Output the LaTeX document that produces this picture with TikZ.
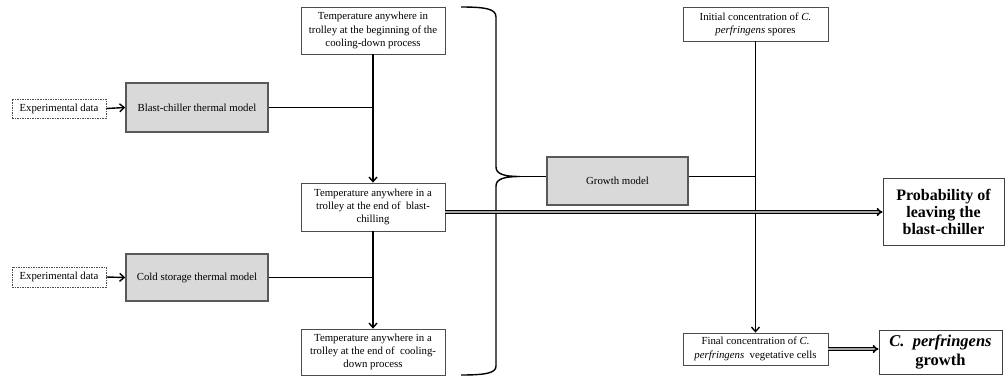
\documentclass[tikz,border=0pt]{standalone}
\usepackage{fontspec}
\setmainfont{Liberation Serif}
\usetikzlibrary{arrows.meta}
\begin{document}
\begin{tikzpicture}[x=1pt,y=-1pt,
  box/.style={draw=black!70, line width=0.8pt, fill=white, align=center, inner sep=0pt, font=\fontsize{10.8}{13.3}\selectfont},
  expbox/.style={box, dash pattern=on 1.5pt off 1pt},
  model/.style={draw=black!65, line width=1.6pt, fill=black!15, align=center, inner sep=0pt, font=\fontsize{10.8}{13.3}\selectfont},
  outbox/.style={draw=black!75, line width=1pt, fill=white, align=center, inner sep=0pt, font=\fontsize{16}{16.8}\selectfont\bfseries},
  conn/.style={line width=1.4pt},
  arr/.style={conn, -{Straight Barb[length=4.5pt,width=8pt]}},
  dbl/.style={double=black!35, double distance=1.1pt, line width=1.5pt, -{Implies}},
]
\useasboundingbox (0,0) rectangle (1006,378);

\node[expbox, minimum width=94pt, minimum height=19pt] (exp1) at (59,108.5) {Experimental data};
\node[model, minimum width=142pt, minimum height=49pt] (blast) at (197,107.5) {Blast-chiller thermal model};
\node[box, minimum width=144pt, minimum height=47pt] (t1) at (373,30.5) {Temperature anywhere in\\trolley at the beginning of the\\cooling-down process};
\node[box, minimum width=144pt, minimum height=48pt] (t2) at (373,207) {Temperature anywhere in a\\trolley at the end of~ blast-\\chilling};
\node[expbox, minimum width=94pt, minimum height=20pt] (exp2) at (59,277) {Experimental data};
\node[model, minimum width=142pt, minimum height=47pt] (cold) at (197,277.5) {Cold storage thermal model};
\node[box, minimum width=144pt, minimum height=46pt] (t3) at (373,352) {Temperature anywhere in a\\trolley at the end of~ cooling-\\down process};
\node[model, minimum width=141pt, minimum height=48pt] (growth) at (617.5,181) {Growth model};
\node[box, minimum width=145pt, minimum height=34pt] (ini) at (755.5,24) {Initial concentration of \textit{C.}\\\textit{perfringens} spores};
\node[box, minimum width=145pt, minimum height=32pt] (fin) at (755.5,349) {Final concentration of \textit{C.}\\\textit{perfringens}~ vegetative cells};
\node[outbox, minimum width=121pt, minimum height=67pt] (prob) at (943.5,212) {Probability of\\leaving the\\blast-chiller};
\node[outbox, minimum width=123pt, minimum height=44pt, font=\fontsize{16.5}{19.5}\selectfont\bfseries] (cg) at (940.5,352) {\textit{C.~ perfringens}\\growth};

\coordinate (tip) at (520,176.5);

% inputs
\draw[arr] (exp1.east) -- (blast.west);
\draw[arr] (exp2.east) -- (cold.west);

% thermal chain
\draw[arr] (t1.south) -- (t2.north);
\draw[conn, line width=1.8pt] (blast.east) -- (t1.south |- blast.east);
\draw[arr] (t2.south) -- (t3.north);
\draw[conn, line width=1.8pt] (cold.east) -- (t2.south |- cold.east);

% brace
\draw[line width=1.4pt] (461,7) .. controls (486,7) and (496,9) .. (496,17) -- (496,167)
  .. controls (496,174) and (504,176.5) .. (tip)
  .. controls (504,176.5) and (496,179) .. (496,186) -- (496,366)
  .. controls (496,373) and (486,375) .. (461,375);
\draw[conn, line width=1.8pt] (tip) -- (growth.west |- tip);

% growth / concentration
\draw[arr] (ini.south) -- (fin.north);
\draw[conn, line width=1.8pt] (growth.east |- tip) -- (ini.south |- tip);

% outputs
\draw[dbl] (t2.east |- prob.west) -- (prob.west);
\draw[dbl] (fin.east) -- (cg.west |- fin.east);
\end{tikzpicture}
\end{document}
